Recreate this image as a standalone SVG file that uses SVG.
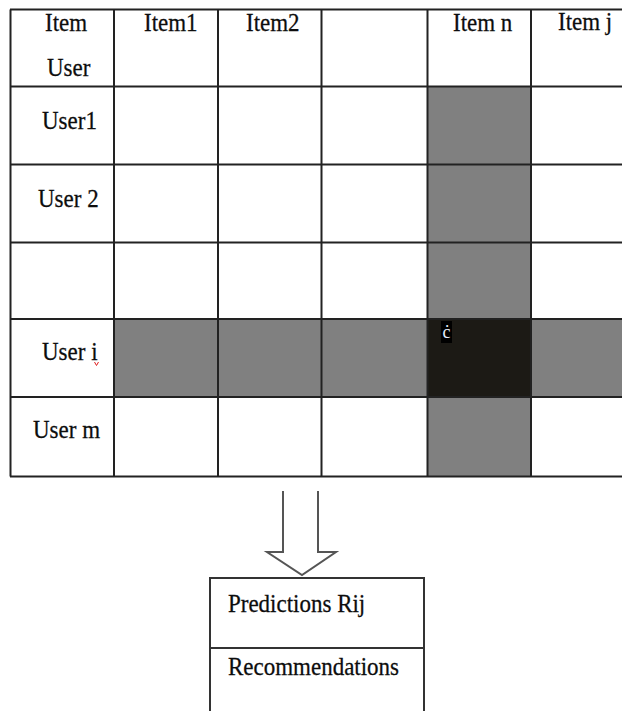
<svg xmlns="http://www.w3.org/2000/svg" width="622" height="711" viewBox="0 0 622 711">
  <style>
    .t { font-family: "Liberation Serif", "Times New Roman", serif; font-size: 23px; fill: #0d0d0d; stroke: #0d0d0d; stroke-width: 0.25; }
    .grid { stroke: #222; stroke-width: 2; fill: none; }
    .shade { fill: #808080; }
    .dark { fill: #1c1a15; }
    .box { stroke: #333; stroke-width: 2; fill: #fff; }
  </style>

  <!-- rating matrix -->
  <g id="matrix">
    <rect x="0" y="0" width="622" height="711" fill="#fff"/>
    <!-- highlighted column (Item n) and row (User i) -->
    <rect class="shade" x="427" y="87" width="104" height="390"/>
    <rect class="shade" x="114" y="319" width="508" height="78"/>
    <rect class="dark" x="427" y="319" width="104" height="78"/>
    <!-- grid lines -->
    <path class="grid" d="M10,9.5 H622 M10,86.5 H622 M10,164.5 H622 M10,242.5 H622 M10,319 H622 M10,397 H622 M10,476.5 H622
                          M10.5,9.5 V476.5 M114,9.5 V476.5 M218,9.5 V476.5 M321.5,9.5 V476.5 M427.5,9.5 V476.5 M531,9.5 V476.5"/>
  </g>

  <!-- labels are drawn slightly taller than wide (scale 1 x 1.1), so y values are baseline / 1.1 -->
  <g id="header" transform="scale(1,1.1)">
    <text class="t" x="45" y="28.2">Item</text>
    <text class="t" x="47" y="69.1">User</text>
    <text class="t" x="144" y="28.2">Item1</text>
    <text class="t" x="246" y="28.2">Item2</text>
    <text class="t" x="453" y="28.2">Item n</text>
    <text class="t" x="558" y="27.3">Item j</text>
  </g>

  <g id="rows">
    <g transform="scale(1,1.1)">
      <text class="t" x="42" y="117.3">User1</text>
      <text class="t" x="38" y="188.2">User 2</text>
      <text class="t" x="42" y="327.3">User i</text>
      <text class="t" x="33" y="398.2">User m</text>
    </g>
    <path d="M94.5,362 L96.5,365.5 L98.5,362" stroke="#e02020" stroke-width="1" fill="none"/>
  </g>

  <g id="cell-ij">
    <rect x="441" y="321" width="11" height="22" fill="#000"/>
    <text x="442.5" y="338" font-family="Liberation Serif, serif" font-size="18" fill="#e8f0ff">ċ</text>
  </g>

  <!-- block arrow from matrix to results -->
  <g id="connectors">
    <path d="M283,491 V552 H267 L302,575 L336,552 H318 V491" fill="#fff" stroke="#555" stroke-width="2" stroke-linejoin="miter"/>
  </g>

  <g id="results">
    <rect class="box" x="210" y="578" width="214" height="140"/>
    <line x1="210" y1="648" x2="424" y2="648" stroke="#333" stroke-width="2"/>
    <g transform="scale(1,1.1)">
      <text class="t" x="228" y="556.4">Predictions Rij</text>
      <text class="t" x="228" y="613.6">Recommendations</text>
    </g>
  </g>
</svg>
